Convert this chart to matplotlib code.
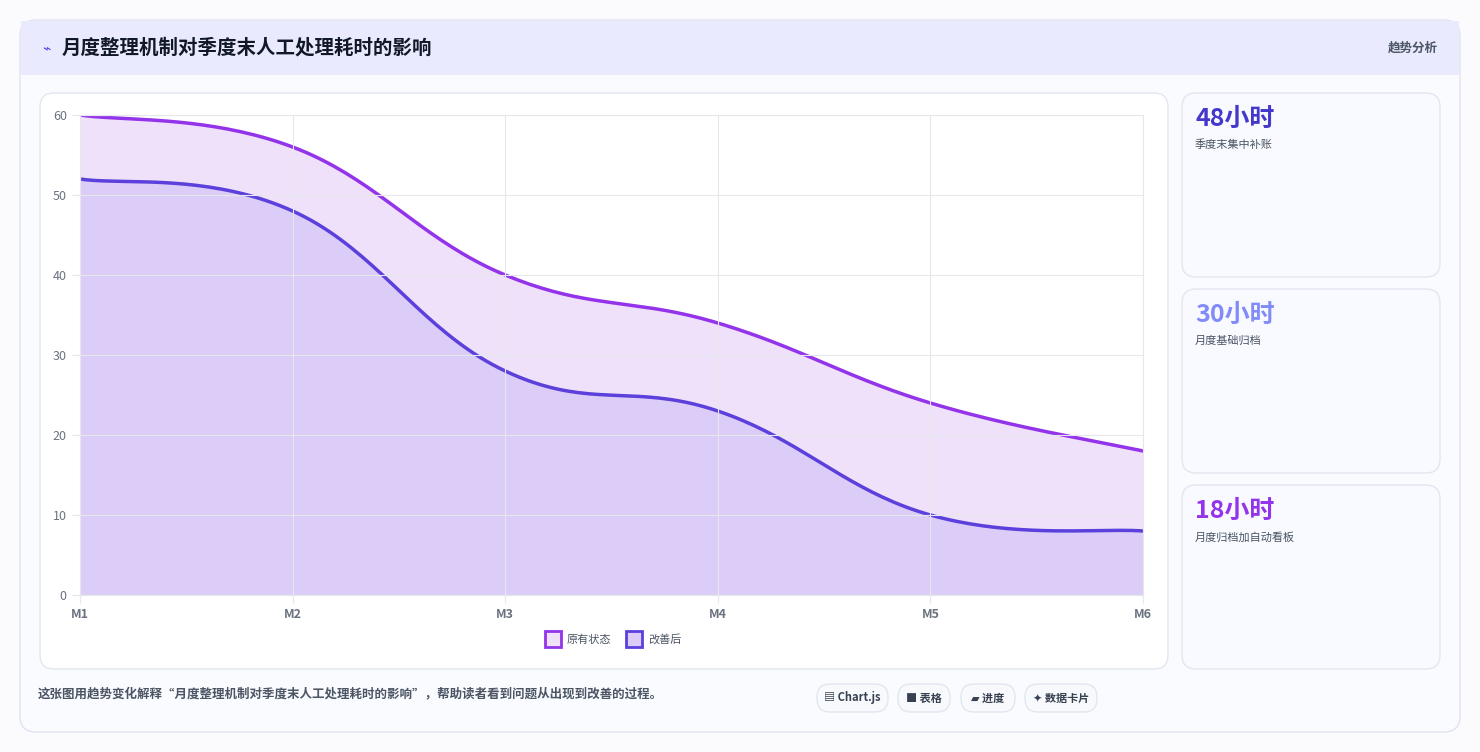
import matplotlib
matplotlib.use("Agg")
import matplotlib.pyplot as plt
from matplotlib.patches import FancyBboxPatch, Rectangle
import numpy as np

plt.rcParams['font.family'] = ['Noto Sans CJK SC', 'DejaVu Sans']

months = ["M1", "M2", "M3", "M4", "M5", "M6"]
original = [60, 56, 40, 34, 24, 18]
improved = [52, 48, 28, 23, 10, 8]
series_names = ["原有状态", "改善后"]
card_values = ["48小时", "30小时", "18小时"]
card_labels = ["季度末集中补账", "月度基础归档", "月度归档加自动看板"]
card_colors = ["#4338ca", "#818cf8", "#9333ea"]
chips = ["▤ Chart.js", "■ 表格", "▰ 进度", "✦ 数据卡片"]

W, H = 1480, 752
fig = plt.figure(figsize=(W / 100, H / 100), dpi=100)
fig.patch.set_facecolor("#fbfbfd")


def box(x0, y0, x1, y1, fc, ec="none", r=12, z=0, lw=1):
    p = FancyBboxPatch((x0 / W, 1 - y1 / H), (x1 - x0) / W, (y1 - y0) / H,
                       boxstyle=f"round,pad=0,rounding_size={r / W}",
                       transform=fig.transFigure, facecolor=fc, edgecolor=ec,
                       lw=lw, zorder=z, mutation_aspect=W / H)
    fig.add_artist(p)


def txt(x, y, s, **kw):
    fig.text(x / W, 1 - y / H, s, **kw)


box(20, 20, 1460, 732, "#fafbfe", "#dfe3f0", r=16)
fig.add_artist(Rectangle((21 / W, 1 - 75 / H), 1438 / W, 54 / H, transform=fig.transFigure,
                         facecolor="#e9eafd", edgecolor="none", zorder=0.5))
txt(42, 48, "⌁", fontsize=10, color="#4f46e5", va="center")
txt(62, 48, "月度整理机制对季度末人工处理耗时的影响", fontsize=14, weight="bold",
    color="#111827", va="center")
txt(1438, 48, "趋势分析", fontsize=9, color="#4b5563", va="center", ha="right", weight="bold")

box(40, 93, 1168, 669, "white", "#e2e6f0", r=14, z=1)
for i, (top, bot) in enumerate([(93, 277), (289, 473), (485, 669)]):
    box(1182, top, 1440, bot, "#f9faff", "#e2e6f0", r=14, z=1)
    txt(1195, top + 26, card_values[i], fontsize=18, weight="bold", color=card_colors[i],
        va="center", zorder=2)
    txt(1195, top + 52, card_labels[i], fontsize=8, color="#4b5563", va="center", zorder=2)

txt(38, 694, "这张图用趋势变化解释“月度整理机制对季度末人工处理耗时的影响”，帮助读者看到问题从出现到改善的过程。",
    fontsize=9, color="#4b5563", va="center", weight="bold")
chip_x = [(817, 888), (898, 950), (961, 1015), (1025, 1097)]
for (a, b), c in zip(chip_x, chips):
    box(a, 684, b, 712, "#f8f9fc", "#e2e6f0", r=13, z=1)
    txt((a + b) / 2, 698, c, fontsize=8, color="#374151", ha="center", va="center",
        weight="bold", zorder=2)

ax = fig.add_axes([80 / W, 1 - 595 / H, 1063 / W, 480 / H], zorder=3)
ax.set_facecolor("white")


def smooth(y, tension=0.4, n=40):
    # Chart.js style bezier interpolation
    x = np.arange(len(y), dtype=float)
    y = np.asarray(y, dtype=float)
    xs, ys = [], []
    for i in range(len(y) - 1):
        p0 = (x[i], y[i]); p3 = (x[i + 1], y[i + 1])
        prev = (x[i - 1], y[i - 1]) if i > 0 else p0
        nxt = (x[i + 2], y[i + 2]) if i + 2 < len(y) else p3
        c1 = (p0[0] + tension / 2 * (p3[0] - prev[0]), p0[1] + tension / 2 * (p3[1] - prev[1]))
        c2 = (p3[0] - tension / 2 * (nxt[0] - p0[0]), p3[1] - tension / 2 * (nxt[1] - p0[1]))
        t = np.linspace(0, 1, n)
        bx = (1 - t) ** 3 * p0[0] + 3 * (1 - t) ** 2 * t * c1[0] + 3 * (1 - t) * t ** 2 * c2[0] + t ** 3 * p3[0]
        by = (1 - t) ** 3 * p0[1] + 3 * (1 - t) ** 2 * t * c1[1] + 3 * (1 - t) * t ** 2 * c2[1] + t ** 3 * p3[1]
        xs.extend(bx); ys.extend(by)
    return np.array(xs), np.array(ys)


for data, lc, fc, name in [(original, "#9333ea", "#efe1fa", series_names[0]),
                           (improved, "#5b40dc", "#dccdf8", series_names[1])]:
    sx, sy = smooth(data)
    ax.fill_between(sx, 0, sy, color=fc, zorder=1)
    ax.plot(sx, sy, color=lc, lw=2.5, zorder=2)
    ax.plot([], [], marker="s", ls="none", markersize=12, markerfacecolor=fc,
            markeredgecolor=lc, markeredgewidth=2, label=name)

ax.set_xlim(0, len(months) - 1)
ax.set_ylim(0, 60)
ax.set_xticks(range(len(months)))
ax.set_xticklabels(months, fontsize=9, weight="bold", color="#6b7280")
ax.set_yticks(range(0, 61, 10))
ax.tick_params(axis="y", labelsize=9, labelcolor="#6b7280", length=6, color="#e5e7eb")
ax.tick_params(axis="x", length=6, color="#e5e7eb")
ax.grid(True, color="#e5e7eb", lw=0.8)
ax.set_axisbelow(False)
for s in ax.spines.values():
    s.set_color("#e5e7eb")
ax.legend(loc="upper center", bbox_to_anchor=(0.5, -0.06), ncol=2, frameon=False,
          fontsize=8, handletextpad=0.3, columnspacing=1.0, labelcolor="#4b5563")

fig.savefig("out.png", dpi=100, facecolor=fig.get_facecolor())
